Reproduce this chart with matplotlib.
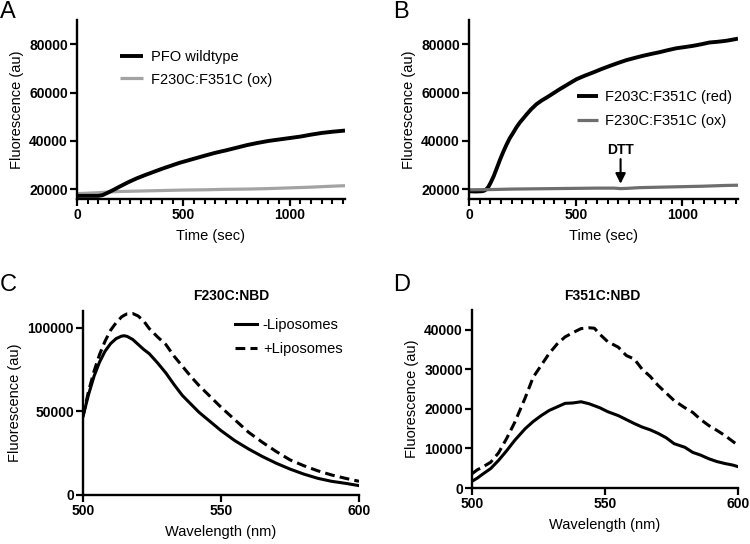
import matplotlib
matplotlib.use("Agg")
import matplotlib.pyplot as plt

plt.rcParams['font.family'] = ['Liberation Sans', 'DejaVu Sans']

# ---------------- Data ----------------
# Panel A
a_time = [0, 50, 100, 120, 140, 170, 200, 240, 280, 320, 360, 400, 440, 480, 520,
          560, 600, 650, 700, 750, 800, 850, 900, 950, 1000, 1050, 1100, 1150,
          1200, 1260]
a_wt = [17300, 17300, 17300, 17600, 18400, 19700, 21100, 22900, 24500, 25900,
        27200, 28500, 29700, 30900, 31900, 32900, 33900, 35100, 36100, 37200,
        38300, 39200, 40000, 40600, 41200, 41800, 42600, 43300, 43800, 44300]
a_ox_time = [0, 50, 100, 150, 200, 300, 400, 500, 600, 700, 800, 900, 1000,
             1100, 1200, 1260]
a_ox = [18200, 18400, 18600, 18900, 19100, 19300, 19500, 19700, 19800, 20000,
        20100, 20300, 20600, 20900, 21300, 21500]

# Panel B
b_time = [0, 30, 60, 70, 80, 90, 100, 115, 130, 145, 160, 176, 190, 207, 222,
          238, 255, 270, 290, 316, 340, 363, 395, 425, 465, 503, 540, 581, 620,
          659, 700, 737, 775, 815, 855, 893, 930, 970, 1010, 1048, 1090, 1126,
          1165, 1204, 1230, 1260]
b_red = [19200, 19100, 19200, 19400, 19900, 20900, 22500, 25300, 28700, 32200,
         35400, 38500, 41000, 43400, 45600, 47600, 49400, 51000, 53000, 55200,
         56700, 57900, 59700, 61400, 63500, 65500, 66900, 68300, 69700, 71000,
         72300, 73400, 74300, 75200, 76000, 76700, 77500, 78300, 78800, 79300,
         80000, 80700, 81000, 81400, 81800, 82300]
b_ox_time = [0, 100, 200, 300, 400, 500, 600, 680, 710, 740, 800, 900, 1000,
             1100, 1200, 1260]
b_ox = [19800, 19900, 20100, 20200, 20300, 20400, 20500, 20500, 20300, 20400,
        20700, 20900, 21100, 21300, 21600, 21700]
dtt_time = 710

# Panel C (F230C:NBD)
c_wl = [500, 502, 504, 506, 508, 510, 512, 514, 515, 516, 518, 520, 522, 524,
        527, 530, 533, 536, 539, 542, 546, 550, 555, 560, 565, 570, 575, 580,
        585, 590, 595, 600]
c_minus = [47000, 60000, 71000, 79500, 86000, 90500, 93500, 95000, 95200, 94800,
           93000, 90000, 87000, 84500, 79000, 73000, 66000, 59500, 54500, 49500,
           44000, 38500, 32500, 27500, 23000, 19000, 15500, 12500, 10000, 8200,
           7000, 5600]
c_plus = [47000, 62000, 74000, 84000, 92000, 98500, 103000, 106500, 107500,
          108300, 108500, 107000, 104000, 99500, 94500, 90000, 83000, 77000,
          71000, 65500, 59000, 52500, 45000, 37500, 31500, 26000, 21000, 17500,
          14500, 12000, 10000, 8200]

# Panel D (F351C:NBD)
d_wl = [500, 502, 504, 507, 510, 513, 516, 520, 523, 526, 529, 532, 535, 538,
        541, 544, 546, 548, 551, 555, 558, 561, 564, 567, 570, 573, 576, 580,
        583, 586, 589, 592, 595, 598, 600]
d_minus = [1700, 2500, 3500, 4900, 7000, 9400, 12000, 15000, 16800, 18300,
           19600, 20500, 21400, 21500, 21800, 21300, 20800, 20300, 19300, 18300,
           17300, 16300, 15400, 14700, 13800, 12700, 11200, 10300, 9000, 8300,
           7400, 6700, 6200, 5800, 5400]
d_plus = [3600, 4600, 5300, 6500, 8900, 12500, 16500, 22800, 28000, 31000,
          34000, 36400, 38200, 39300, 40300, 40500, 40400, 38900, 37000, 35600,
          33500, 32600, 30000, 28200, 25900, 24000, 22100, 20300, 19100, 17300,
          15800, 14600, 13300, 11800, 10800]

ab_xticks = [0, 500, 1000]
ab_xminor = [50, 100, 150, 200, 250, 300, 350, 400, 450, 550, 600, 650, 700,
             750, 800, 850, 900, 950, 1050, 1100, 1150, 1200, 1250]
ab_yticks = [20000, 40000, 60000, 80000]
c_yticks = [0, 50000, 100000]
d_yticks = [0, 10000, 20000, 30000, 40000]
cd_xticks = [500, 550, 600]

# ---------------- Figure ----------------
W, H = 750, 544
fig = plt.figure(figsize=(7.5, 5.44), dpi=100)


def add_axes_px(left, top, right, bottom):
    return fig.add_axes([left / W, 1 - bottom / H, (right - left) / W,
                         (bottom - top) / H])


TICK_FS = 10
LABEL_FS = 10.5


def style(ax, xticks, yticks, xminor=None):
    for s in ['top', 'right']:
        ax.spines[s].set_visible(False)
    for s in ['left', 'bottom']:
        ax.spines[s].set_linewidth(1.7)
    ax.set_xticks(xticks, [str(v) for v in xticks], fontweight='bold',
                  fontsize=TICK_FS)
    ax.set_yticks(yticks, [str(v) for v in yticks], fontweight='bold',
                  fontsize=TICK_FS)
    if xminor is not None:
        ax.set_xticks(xminor, minor=True)
    ax.tick_params(which='major', direction='out', length=5, width=1.6,
                   pad=1.5)
    ax.tick_params(which='minor', direction='out', length=3.8, width=1.5)


axA = add_axes_px(77, 20, 345, 199)
axB = add_axes_px(469, 20, 738, 199)
axC = add_axes_px(83, 311, 359, 495)
axD = add_axes_px(472, 310, 738, 488)

# Panel A
axA.plot(a_time, a_wt, color='black', lw=2.8, label='PFO wildtype',
         solid_capstyle='butt', zorder=3)
axA.plot(a_ox_time, a_ox, color='#a3a3a3', lw=2.3, label='F230C:F351C (ox)',
         solid_capstyle='butt', zorder=2)

# Panel B
axB.plot(b_time, b_red, color='black', lw=2.8, label='F203C:F351C (red)',
         solid_capstyle='butt')
axB.plot(b_ox_time, b_ox, color='#6e6e6e', lw=2.3, label='F230C:F351C (ox)',
         solid_capstyle='butt')
axB.annotate('', xy=(dtt_time, 22300), xytext=(dtt_time, 32500),
             arrowprops=dict(arrowstyle='-|>,head_length=0.6,head_width=0.3',
                             color='black', lw=1.5, shrinkA=0, shrinkB=0))
axB.text(dtt_time, 33300, 'DTT', ha='center', va='bottom', fontsize=10,
         fontweight='bold')

for ax in (axA, axB):
    ax.set_xlim(0, 1260)
    ax.set_ylim(16000, 90000)
    ax.set_xlabel('Time (sec)', fontsize=LABEL_FS, labelpad=5)
    ax.set_ylabel('Fluorescence (au)', fontsize=LABEL_FS, labelpad=4)
    style(ax, ab_xticks, ab_yticks, ab_xminor)

axA.legend(loc='upper left', bbox_to_anchor=(0.16, 0.832), frameon=False,
           fontsize=LABEL_FS, handlelength=1.6, handletextpad=0.5,
           labelspacing=0.58, borderpad=0, borderaxespad=0)
axB.legend(loc='upper left', bbox_to_anchor=(0.40, 0.609), frameon=False,
           fontsize=LABEL_FS, handlelength=1.45, handletextpad=0.5,
           labelspacing=0.7, borderpad=0, borderaxespad=0)

# Panel C
axC.plot(c_wl, c_minus, color='black', lw=2.2, label='-Liposomes')
axC.plot(c_wl, c_plus, color='black', lw=2.2, dashes=(3.2, 1.7),
         label='+Liposomes')
axC.set_ylim(0, 110000)
axC.legend(loc='upper left', bbox_to_anchor=(0.551, 0.962),
           frameon=False, fontsize=LABEL_FS, handlelength=1.5,
           handletextpad=0.4, labelspacing=0.7, borderpad=0,
           borderaxespad=0)

# Panel D
axD.plot(d_wl, d_minus, color='black', lw=2.2)
axD.plot(d_wl, d_plus, color='black', lw=2.2, dashes=(3.2, 1.7))
axD.set_ylim(0, 45000)

for ax, yt in ((axC, c_yticks), (axD, d_yticks)):
    ax.set_xlim(500, 600)
    ax.set_xlabel('Wavelength (nm)', fontsize=LABEL_FS, labelpad=5)
    ax.set_ylabel('Fluorescence (au)', fontsize=LABEL_FS, labelpad=4)
    style(ax, cd_xticks, yt)

fig.text(231 / W, 1 - 296 / H, 'F230C:NBD', ha='center', va='center',
         fontsize=10, fontweight='bold')
fig.text(602 / W, 1 - 296 / H, 'F351C:NBD', ha='center', va='center',
         fontsize=10, fontweight='bold')

for letter, x, y in [('A', 0, 1), ('B', 393, 1), ('C', 0, 274), ('D', 393, 274)]:
    fig.text(x / W, 1 - y / H, letter, ha='left', va='top', fontsize=17)

fig.savefig('out.png', dpi=100)
